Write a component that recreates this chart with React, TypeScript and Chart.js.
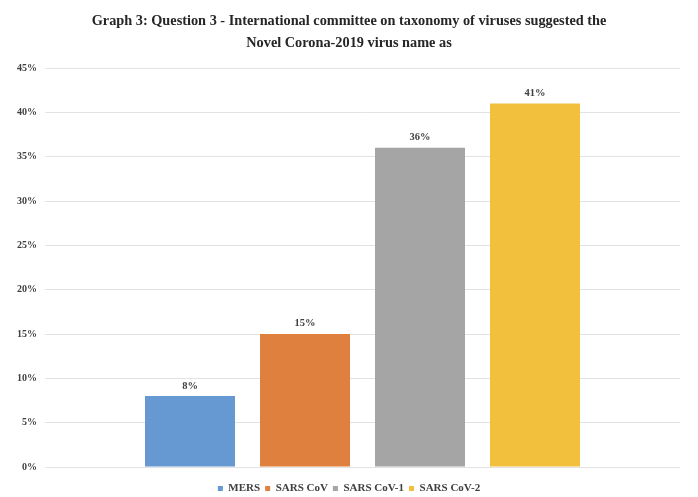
import React, { useEffect, useRef } from "react";
import { Chart, registerables } from "chart.js";

Chart.register(...registerables);

// Chart text
const titleLines = [
  "Graph 3: Question 3 - International committee on taxonomy of viruses suggested the",
  "Novel Corona-2019 virus name as",
];

// One response group, one bar per suggested name
const categories = ["Suggested name"];
const seriesNames = ["MERS", "SARS CoV", "SARS CoV-1", "SARS CoV-2"];
const seriesValues = [8, 15, 36, 41];
const seriesColors = ["#6698d2", "#e0803f", "#a5a5a5", "#f2c03c"];

// Value axis (percent)
const yMin = 0;
const yMax = 45;
const yStep = 5;

const FONT = "'Liberation Serif', 'Times New Roman', serif";
const TEXT = "#404040";

// Writes each bar's value just above it
const valueLabels = {
  id: "valueLabels",
  afterDatasetsDraw(chart: any) {
    const ctx = chart.ctx;
    ctx.save();
    ctx.font = `bold 10.5px ${FONT}`;
    ctx.fillStyle = TEXT;
    ctx.textAlign = "center";
    ctx.textBaseline = "bottom";
    chart.data.datasets.forEach((ds: any, i: number) => {
      const meta = chart.getDatasetMeta(i);
      meta.data.forEach((bar: any, j: number) => {
        ctx.fillText(`${ds.data[j]}%`, bar.x, bar.y - 5);
      });
    });
    ctx.restore();
  },
};

export default function App() {
  const canvasRef = useRef<HTMLCanvasElement | null>(null);

  useEffect(() => {
    const canvas = canvasRef.current;
    if (!canvas) return;
    const chart = new Chart(canvas, {
      type: "bar",
      data: {
        labels: categories,
        datasets: seriesNames.map((name, i) => ({
          label: name,
          data: [seriesValues[i]],
          backgroundColor: seriesColors[i],
          borderWidth: 0,
          categoryPercentage: 0.7244,
          barPercentage: 0.7826,
        })),
      },
      options: {
        responsive: false,
        animation: false,
        devicePixelRatio: 1,
        layout: { padding: 0 },
        plugins: {
          title: {
            display: true,
            text: titleLines,
            color: "#262626",
            font: { family: FONT, size: 14.3, weight: "bold", lineHeight: "22px" },
            padding: { top: 10, bottom: 14 },
          },
          legend: {
            position: "bottom",
            labels: {
              boxWidth: 5,
              boxHeight: 5,
              padding: 5,
              color: TEXT,
              font: { family: FONT, size: 11, weight: "bold" },
            },
          },
          tooltip: { enabled: false },
        },
        scales: {
          x: {
            display: true,
            grid: { display: false, drawTicks: false },
            border: { display: false },
            ticks: { display: false },
            afterFit: (scale: any) => {
              scale.height = 11;
            },
          },
          y: {
            min: yMin,
            max: yMax,
            grid: { color: "#e2e2e2", lineWidth: 1, drawTicks: false },
            border: { display: false },
            ticks: {
              stepSize: yStep,
              padding: 8,
              color: TEXT,
              font: { family: FONT, size: 10, weight: "bold" },
              callback: (v: any) => `${v}%`,
            },
            afterFit: (scale: any) => {
              scale.width = 45;
            },
          },
          // empty right-hand margin axis
          yRight: {
            position: "right",
            display: true,
            min: yMin,
            max: yMax,
            grid: { display: false, drawTicks: false },
            border: { display: false },
            ticks: { display: false },
            afterFit: (scale: any) => {
              scale.width = 18;
            },
          },
        },
      },
      plugins: [valueLabels],
    });
    return () => chart.destroy();
  }, []);

  return (
    <div
      style={{
        position: "fixed",
        left: 0,
        top: 0,
        width: 698,
        height: 497,
        overflow: "hidden",
        background: "#ffffff",
      }}
    >
      <canvas ref={canvasRef} width={698} height={504} style={{ display: "block" }} />
    </div>
  );
}
